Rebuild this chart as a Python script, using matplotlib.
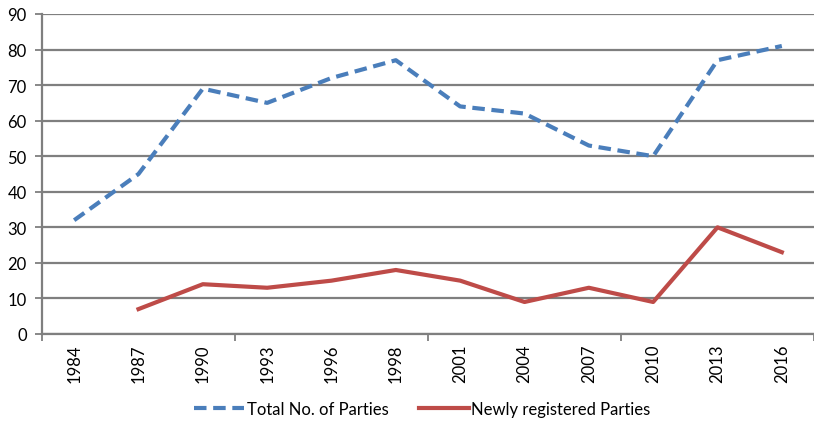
import numpy as np
import matplotlib
matplotlib.use("Agg")
import matplotlib.pyplot as plt

years = ["1984", "1987", "1990", "1993", "1996", "1998",
         "2001", "2004", "2007", "2010", "2013", "2016"]
total_parties = [32, 45, 69, 65, 72, 77, 64, 62, 53, 50, 77, 81]
# no value for 1984
new_parties = [np.nan, 7, 14, 13, 15, 18, 15, 9, 13, 9, 30, 23]

plt.rcParams['font.family'] = ['Lato', 'DejaVu Sans']

fig = plt.figure(figsize=(8.14, 4.27), dpi=100)
ax = fig.add_axes([0.0516, 0.2155, 0.9484, 0.7494])

x = np.arange(len(years))
ax.plot(x, total_parties, color='#4a7ebb', lw=3, ls=(0, (3, 1.6)),
        label='Total No. of Parties')
ax.plot(x, new_parties, color='#be4b48', lw=3,
        label='Newly registered Parties')

ax.set_ylim(0, 90)
ax.set_yticks(range(0, 91, 10))
ax.set_xlim(-0.5, 11.45)

# category labels in the middle, tick marks every 3 categories
ax.set_xticks([-0.5, 2.5, 5.5, 8.5, 11.5])
ax.set_xticklabels([])
ax.set_xticks(x, minor=True)
ax.set_xticklabels(years, minor=True, rotation=90)
ax.tick_params(axis='x', which='minor', length=0, pad=7, labelsize=12)
ax.tick_params(axis='x', which='major', length=5, width=1.3, color='#7f7f7f')
ax.tick_params(axis='y', length=5, width=1.3, color='#7f7f7f', labelsize=12, pad=6)

ax.grid(axis='y', color='#7f7f7f', lw=1.6)
ax.set_axisbelow(True)
for s in ['top', 'right']:
    ax.spines[s].set_visible(False)
for s in ['left', 'bottom']:
    ax.spines[s].set_color('#7f7f7f')
    ax.spines[s].set_linewidth(1.6)

fig.legend(loc='center', bbox_to_anchor=(0.519, 0.04), ncol=2, frameon=False,
           fontsize=12, handlelength=3.0, columnspacing=1.8, handletextpad=0.15)

fig.savefig('out.png', dpi=100)
